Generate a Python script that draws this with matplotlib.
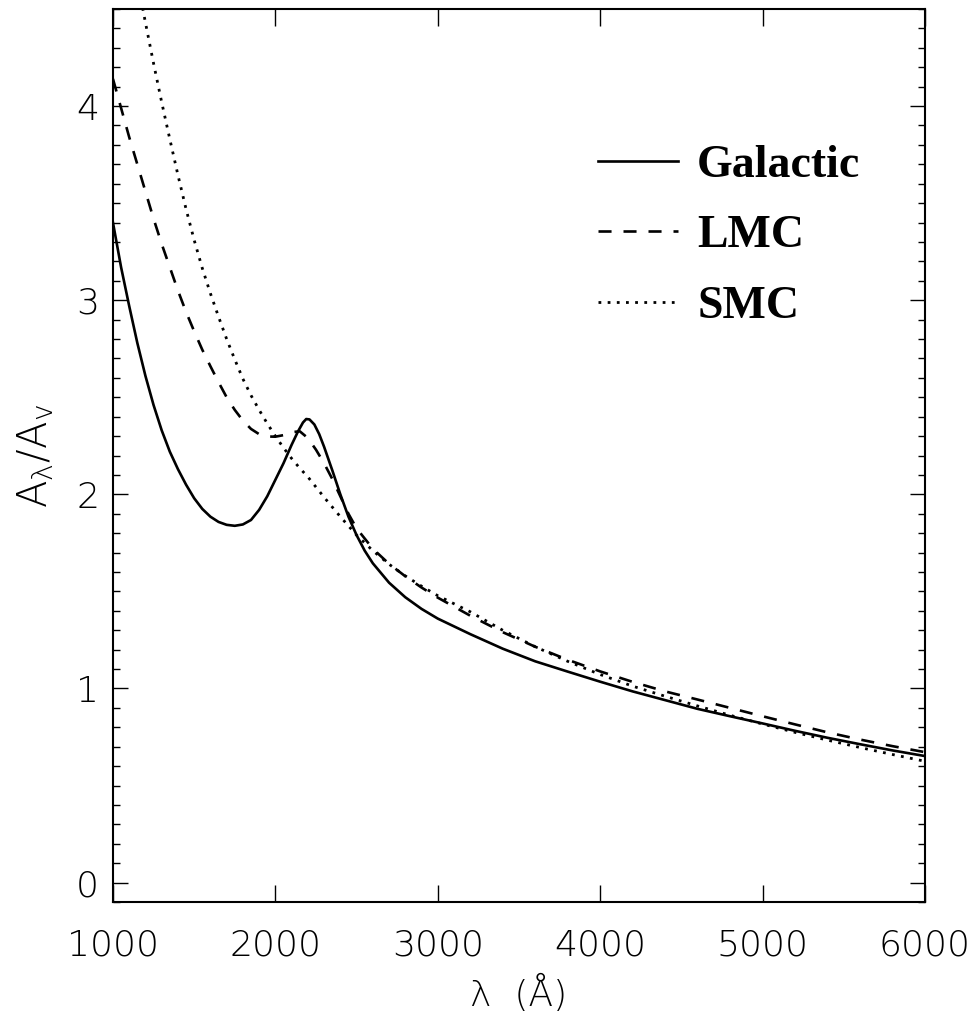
"""UV extinction curves for the Milky Way, LMC and SMC."""

import matplotlib
matplotlib.use("Agg")
import matplotlib.pyplot as plt
from matplotlib.ticker import MultipleLocator

# Galactic extinction curve, A_lambda / A_V
gal_wave = [1000, 1050, 1100, 1150, 1200, 1250, 1300, 1350, 1400, 1450,
            1500, 1550, 1600, 1650, 1700, 1750, 1800, 1850, 1900, 1950,
            2000, 2050, 2100, 2140, 2170, 2190, 2210, 2240, 2270, 2300,
            2350, 2400, 2450, 2500, 2550, 2600, 2700, 2800, 2900, 3000,
            3200, 3400, 3600, 3800, 4000, 4200, 4400, 4600, 4800, 5000,
            5200, 5400, 5600, 5800, 6000]
gal_ext = [3.40, 3.17, 2.97, 2.78, 2.61, 2.46, 2.33, 2.22, 2.13, 2.05,
           1.98, 1.925, 1.885, 1.858, 1.843, 1.838, 1.845, 1.868, 1.92, 1.99,
           2.075, 2.16, 2.255, 2.325, 2.37, 2.388, 2.386, 2.36, 2.31, 2.245,
           2.125, 2.0, 1.885, 1.79, 1.71, 1.645, 1.545, 1.47, 1.41, 1.36,
           1.28, 1.205, 1.14, 1.087, 1.035, 0.985, 0.94, 0.895, 0.857, 0.82,
           0.782, 0.746, 0.713, 0.681, 0.652]

# LMC extinction curve
lmc_wave = [1000, 1050, 1100, 1150, 1200, 1250, 1300, 1350, 1400, 1450,
            1500, 1550, 1600, 1650, 1700, 1750, 1800, 1850, 1900, 1950,
            2000, 2050, 2100, 2150, 2200, 2250, 2300, 2350, 2400, 2450,
            2500, 2600, 2700, 2800, 2900, 3000, 3200, 3400, 3600, 3800,
            4000, 4200, 4400, 4600, 4800, 5000, 5200, 5400, 5600, 5800,
            6000]
lmc_ext = [4.14, 3.99, 3.84, 3.70, 3.56, 3.42, 3.29, 3.17, 3.05, 2.94,
           2.84, 2.745, 2.66, 2.578, 2.50, 2.435, 2.38, 2.337, 2.31, 2.298,
           2.297, 2.305, 2.32, 2.325, 2.29, 2.23, 2.16, 2.08, 1.99, 1.90,
           1.825, 1.72, 1.642, 1.578, 1.52, 1.468, 1.375, 1.29, 1.215, 1.148,
           1.088, 1.034, 0.985, 0.943, 0.90, 0.857, 0.815, 0.774, 0.737, 0.703,
           0.672]

# SMC extinction curve
smc_wave = [1170, 1200, 1250, 1300, 1350, 1400, 1450, 1500, 1550, 1600,
            1650, 1700, 1750, 1800, 1850, 1900, 1950, 2000, 2050, 2100,
            2150, 2200, 2300, 2400, 2500, 2600, 2700, 2800, 2900, 3000,
            3200, 3400, 3600, 3800, 4000, 4200, 4400, 4600, 4800, 5000,
            5200, 5400, 5600, 5800, 6000]
smc_ext = [4.56, 4.43, 4.22, 4.02, 3.83, 3.645, 3.47, 3.31, 3.165, 3.035,
           2.915, 2.80, 2.695, 2.595, 2.51, 2.435, 2.365, 2.30, 2.24, 2.185,
           2.135, 2.09, 1.985, 1.885, 1.79, 1.71, 1.64, 1.58, 1.527, 1.478,
           1.395, 1.30, 1.215, 1.14, 1.072, 1.012, 0.96, 0.91, 0.862, 0.817,
           0.774, 0.734, 0.696, 0.66, 0.625]

plt.rcParams["lines.scale_dashes"] = False
plt.rcParams["font.family"] = ["DejaVu Sans"]
plt.rcParams["mathtext.fontset"] = "custom"
plt.rcParams["mathtext.rm"] = "DejaVu Sans:light"
plt.rcParams["mathtext.it"] = "DejaVu Sans:light"

fig = plt.figure(figsize=(9.78, 10.24), dpi=100)
ax = fig.add_axes([0.1155, 0.1191, 0.8303, 0.8721])

ax.plot(gal_wave, gal_ext, color="black", lw=1.9, label="Galactic")
ax.plot(lmc_wave, lmc_ext, color="black", lw=1.9, dashes=(9.4, 8.6),
        label="LMC")
ax.plot(smc_wave, smc_ext, color="black", lw=2.0, dashes=(2.0, 4.6),
        label="SMC")

ax.set_xlim(1000, 6000)
ax.set_ylim(-0.1, 4.5)

ax.xaxis.set_major_locator(MultipleLocator(1000))
ax.yaxis.set_major_locator(MultipleLocator(1))
ax.yaxis.set_minor_locator(MultipleLocator(0.1))

ax.tick_params(axis="x", which="major", direction="in", top=True,
               length=12, width=1.0, pad=19, labelsize=26)
ax.tick_params(axis="y", which="major", direction="in", right=True,
               length=10.8, width=1.0, pad=10, labelsize=26)
ax.tick_params(axis="y", which="minor", direction="in", right=True,
               length=5, width=1.0)
for lbl in ax.get_xticklabels() + ax.get_yticklabels():
    lbl.set_fontweight("light")

for spine in ax.spines.values():
    spine.set_linewidth(1.5)

ax.set_xlabel("λ  (Å)", fontsize=26, fontweight="light", labelpad=9)
ax.set_ylabel(r"$\mathrm{A_{\lambda}/A_{v}}$", fontsize=29, labelpad=14)

ax.legend(loc="upper left", bbox_to_anchor=(0.597, 0.848), frameon=False,
          borderpad=0, borderaxespad=0, handlelength=1.75,
          handletextpad=0.42, labelspacing=0.62,
          prop={"family": "Liberation Serif", "weight": "bold", "size": 33})

fig.savefig("out.png", dpi=100)
